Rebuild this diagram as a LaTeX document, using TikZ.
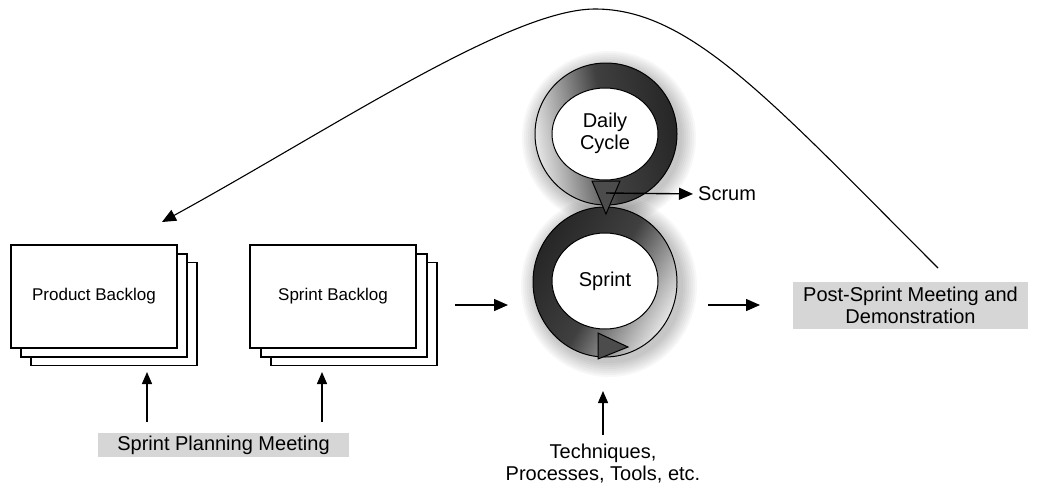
\documentclass[tikz,border=0pt]{standalone}
\usepackage{fontspec}
\setmainfont{Liberation Sans}
\usetikzlibrary{positioning,calc,arrows.meta}

\tikzset{
  page/.style={draw, fill=white, line width=1.1pt, minimum width=166pt, minimum height=103pt, inner sep=0pt, font=\fontsize{17}{20}\selectfont},
  graybox/.style={fill=black!16, inner sep=0pt, align=center, font=\fontsize{20}{22}\selectfont},
  lbl/.style={inner sep=0pt, align=center, font=\fontsize{20}{22}\selectfont},
  flow/.style={-{Triangle[length=14pt,width=12pt]}, line width=1.4pt},
}

\begin{document}
\begin{tikzpicture}[x=1pt, y=-1pt]
  \useasboundingbox (0,0) rectangle (1039,488);

  % Product Backlog stack
  \node[page] (pb3) at (114,314) {};
  \node[page] (pb2) at (104,305.5) {};
  \node[page] (pb) at (94,296.5) {Product Backlog};

  % Sprint Backlog stack
  \node[page] (sb3) at (354,314) {};
  \node[page] (sb2) at (344,305.5) {};
  \node[page] (sb) at (333,296.5) {Sprint Backlog};

  % Sprint Planning Meeting feeding both backlogs
  \node[graybox, minimum width=251pt, minimum height=24pt] (spm) at (223.5,445) {Sprint Planning Meeting};
  \coordinate (pbin) at (147,422);
  \coordinate (sbin) at (322,422);
  \draw[flow, -{Triangle[length=12pt,width=10pt]}] (pbin) -- (147,372);
  \draw[flow, -{Triangle[length=12pt,width=10pt]}] (sbin) -- (322,372);

  % soft shadow under the two rings
  \foreach \k in {2,4,...,16} {
    \fill[black, opacity=0.03] (609,286) ellipse [x radius=72+\k, y radius=75+\k];
    \fill[black, opacity=0.03] (609,138) ellipse [x radius=71+\k, y radius=71+\k];
  }

  % Sprint ring
  \shadedraw[line width=1pt, top color=black!85, bottom color=black!10, middle color=black!75, shading angle=60]
    (605,282) ellipse [x radius=72, y radius=75];
  \filldraw[fill=white, line width=1pt] (605,281) ellipse [x radius=53, y radius=48];
  \node[lbl] (sprint) at (605,281) {Sprint};
  \filldraw[fill=black!70, line width=1pt] (598,333) -- (598,359) -- (628,347) -- cycle;

  % Daily Cycle ring
  \shadedraw[line width=1pt, top color=black!85, bottom color=black!10, middle color=black!75, shading angle=-80]
    (606,134) ellipse [x radius=71, y radius=71];
  \filldraw[fill=white, line width=1pt] (605,134) ellipse [x radius=53, y radius=46];
  \node[lbl] (daily) at (605,133) {Daily\\Cycle};
  \filldraw[fill=black!70, line width=1pt] (592,181) -- (620,181) -- (606,214) -- cycle;

  % Scrum
  \coordinate (scrumtail) at (606,193);
  \node[lbl, anchor=west] (scrum) at (698,194) {Scrum};
  \draw[flow, shorten >=5pt] (scrumtail) -- (scrum.west);

  % flow from backlog through the sprint to the review
  \coordinate (toring) at (455,305);
  \coordinate (atring) at (508,305);
  \draw[flow] (toring) -- (atring);
  \node[graybox, minimum width=235pt, minimum height=47pt] (post) at (910.5,305.5) {Post-Sprint Meeting and\\Demonstration};
  \coordinate (fromring) at (708,305);
  \coordinate (atpost) at (760,305);
  \draw[flow] (fromring) -- (atpost);

  % Techniques
  \node[lbl] (tech) at (603,464) {Techniques,\\Processes, Tools, etc.};
  \coordinate (techtop) at (603,435);
  \draw[flow, -{Triangle[length=12pt,width=10pt]}] (techtop) -- (603,391);

  % feedback loop back to the product backlog
  \coordinate (loopstart) at (938,268);
  \coordinate (loopend) at (162,222);
  \draw[flow, line width=1.1pt] (loopstart) .. controls (770,100) and (690,9) .. (595,9)
    .. controls (510,9) and (330,130) .. (loopend);
\end{tikzpicture}
\end{document}
